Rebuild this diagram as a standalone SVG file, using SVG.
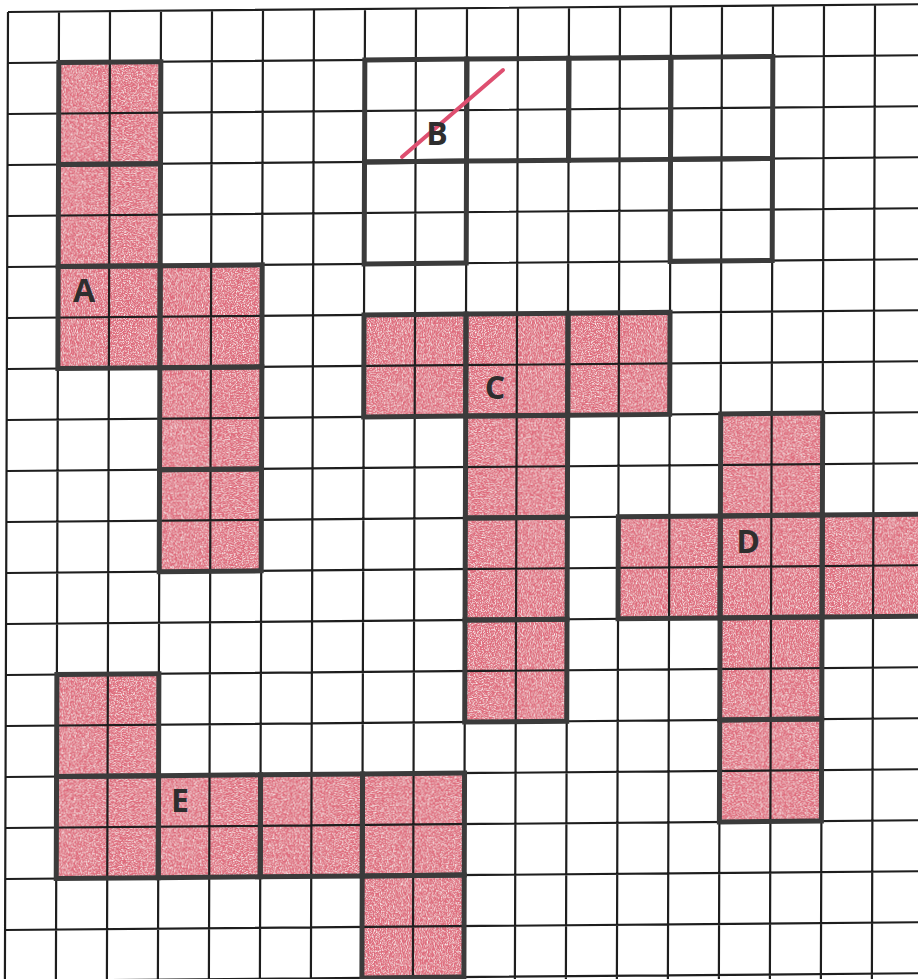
<svg xmlns="http://www.w3.org/2000/svg" width="918" height="979" viewBox="0 0 918 979">
<defs>
<style>
.grid{fill:none;stroke:#1e1e1e;stroke-width:2.2}
.fill{fill:#de6a7c}
.blk{fill:none;stroke:#3b3b3b;stroke-width:5;stroke-linejoin:miter}
.lbl{font-family:"Open Sans","Liberation Sans",sans-serif;font-weight:700;font-size:32px;fill:#2e2e2e;text-anchor:middle}
</style>
<filter id="crayon" filterUnits="userSpaceOnUse" x="-20" y="-20" width="960" height="1010">
<feTurbulence type="fractalNoise" baseFrequency="0.85" numOctaves="2" seed="4" result="n"/>
<feColorMatrix in="n" type="matrix" values="0 0 0 0 1  0 0 0 0 1  0 0 0 0 1  2.6 0 0 0 -1.2" result="w"/>
<feComposite in="w" in2="SourceGraphic" operator="atop"/>
</filter>
<rect id="blk" width="102" height="102"/>
</defs>
<rect width="918" height="979" fill="#fff"/>
<g transform="matrix(1,-0.0085,-0.0032,1,8,12)">
<g id="fills" filter="url(#crayon)">
<g id="fill-A" class="fill"><rect x="51" y="51" width="102" height="306"/><rect x="153" y="255" width="102" height="306"/></g>
<g id="fill-C" class="fill"><rect x="357" y="306" width="306" height="102"/><rect x="459" y="408" width="102" height="306"/></g>
<g id="fill-D" class="fill"><rect x="714" y="408" width="102" height="102"/><rect x="612" y="510" width="320" height="102"/><rect x="714" y="612" width="102" height="204"/></g>
<g id="fill-E" class="fill"><rect x="51" y="663" width="102" height="102"/><rect x="51" y="765" width="408" height="102"/><rect x="357" y="867" width="102" height="120"/></g>
</g>
<g id="grid">
<path class="grid" d="M0 0V990M51 0V990M102 0V990M153 0V990M204 0V990M255 0V990M306 0V990M357 0V990M408 0V990M459 0V990M510 0V990M561 0V990M612 0V990M663 0V990M714 0V990M765 0V990M816 0V990M867 0V990M918 0V990M0 0H935M0 51H935M0 102H935M0 153H935M0 204H935M0 255H935M0 306H935M0 357H935M0 408H935M0 459H935M0 510H935M0 561H935M0 612H935M0 663H935M0 714H935M0 765H935M0 816H935M0 867H935M0 918H935M0 969H935"/>
</g>
<g id="A" class="blk">
<use href="#blk" x="51" y="51"/><use href="#blk" x="51" y="153"/><use href="#blk" x="51" y="255"/><use href="#blk" x="153" y="255"/><use href="#blk" x="153" y="357"/><use href="#blk" x="153" y="459"/>
</g>
<g id="B" class="blk">
<use href="#blk" x="357" y="51"/><use href="#blk" x="357" y="153"/><use href="#blk" x="459" y="51"/><use href="#blk" x="561" y="51"/><use href="#blk" x="663" y="51"/><use href="#blk" x="663" y="153"/>
</g>
<g id="C" class="blk">
<use href="#blk" x="357" y="306"/><use href="#blk" x="459" y="306"/><use href="#blk" x="561" y="306"/><use href="#blk" x="459" y="408"/><use href="#blk" x="459" y="510"/><use href="#blk" x="459" y="612"/>
</g>
<g id="D" class="blk">
<use href="#blk" x="714" y="408"/><use href="#blk" x="612" y="510"/><use href="#blk" x="714" y="510"/><use href="#blk" x="816" y="510"/><use href="#blk" x="714" y="612"/><use href="#blk" x="714" y="714"/>
</g>
<g id="E" class="blk">
<use href="#blk" x="51" y="663"/><use href="#blk" x="51" y="765"/><use href="#blk" x="153" y="765"/><use href="#blk" x="255" y="765"/><use href="#blk" x="357" y="765"/><use href="#blk" x="357" y="867"/>
</g>
</g>
<g id="labels">
<text class="lbl" x="84" y="302">A</text>
<path d="M402 157L503 70" stroke="#de4f70" stroke-width="4" stroke-linecap="round" fill="none"/>
<text class="lbl" x="437" y="145">B</text>
<text class="lbl" x="495" y="399">C</text>
<text class="lbl" x="748" y="553">D</text>
<text class="lbl" x="180" y="812">E</text>
</g>
</svg>
